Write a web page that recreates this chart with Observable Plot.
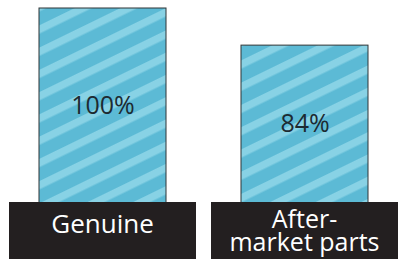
<!DOCTYPE html>
<html>
<head>
<meta charset="utf-8">
<script src="https://cdn.jsdelivr.net/npm/d3@7"></script>
<script src="https://cdn.jsdelivr.net/npm/@observablehq/plot@0.6"></script>
<style>
  html, body { margin: 0; padding: 0; background: #fff; }
  svg { display: block; font-family: "Open Sans", sans-serif; }
</style>
</head>
<body>
<div id="chart"></div>
<script>
// Data
const categories = ["Genuine", "After-market parts"];
const values = [100, 84];
const valueLabels = ["100%", "84%"];
const categoryLines = [["Genuine"], ["After-", "market parts"]];

const data = categories.map((c, i) => ({category: c, value: values[i], label: valueLabels[i]}));

// Layout (pixels)
const W = 406, H = 259;
const yZeroPx = 240, yMaxPx = 8;   // bars start behind the label boxes
const boxTop = 202;
const pxPerUnit = (yZeroPx - yMaxPx) / 100;
const visibleBase = (yZeroPx - boxTop) / pxPerUnit; // value at top of label boxes

const chart = Plot.plot({
  width: W,
  height: H,
  margin: 0,
  x: {type: "band", domain: categories, range: [9, 398], paddingInner: 0.0743, paddingOuter: 0, axis: null},
  y: {domain: [0, 100], range: [yZeroPx, yMaxPx], axis: null},
  marks: [
    Plot.barY(data, {x: "category", y: "value", fill: "url(#stripes)", stroke: "#2f3436", strokeWidth: 1, insetLeft: 30, insetRight: 30}),
    Plot.text(data, {x: "category", y: d => (d.value + visibleBase) / 2, text: "label", fontSize: 25, fill: "#1d2a31", fontFamily: "Open Sans"})
  ]
});

const svg = d3.select(chart);
const defs = svg.insert("defs", ":first-child");
const P = 20;
const pat = defs.append("pattern")
  .attr("id", "stripes")
  .attr("patternUnits", "userSpaceOnUse")
  .attr("width", P).attr("height", P)
  .attr("patternTransform", "rotate(-26)");
pat.append("rect").attr("width", P).attr("height", P).attr("fill", "#5cbad5");
pat.append("rect").attr("y", 0).attr("width", P).attr("height", 7.5).attr("fill", "#88d2e5");

const xs = chart.scale("x");
const g = svg.append("g");
categories.forEach((c, i) => {
  const x0 = xs.apply(c);
  const bw = xs.bandwidth;
  g.append("rect").attr("x", x0).attr("y", boxTop).attr("width", bw).attr("height", H - boxTop).attr("fill", "#231f20");
  const lines = categoryLines[i];
  const lh = 23;
  const firstBaseline = lines.length === 1 ? 233 : 228;
  lines.forEach((t, j) => {
    g.append("text")
      .attr("x", x0 + bw / 2)
      .attr("y", firstBaseline + j * lh)
      .attr("text-anchor", "middle")
      .attr("fill", "#ffffff")
      .attr("font-size", lines.length === 1 ? 26 : 25)
      .attr("font-family", "Open Sans")
      .text(t);
  });
});

document.getElementById("chart").appendChild(chart);
</script>
</body>
</html>
